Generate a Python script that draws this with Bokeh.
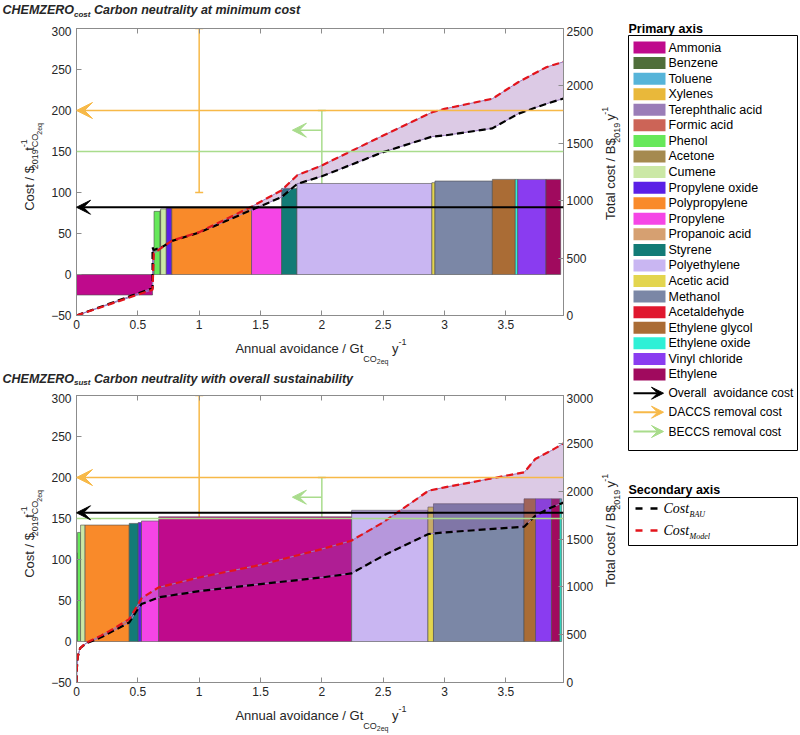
import math
import numpy as np
from bokeh.plotting import figure
from bokeh.models import (Range1d, LinearAxis, SingleIntervalTicker, NumeralTickFormatter,
                          CustomJSTickFormatter, Arrow, VeeHead, Whisker, TeeHead, Span,
                          ColumnDataSource)
from bokeh.layouts import row, column
from bokeh.embed import file_html
from bokeh.resources import INLINE
from bokeh.core.properties import value

NB = "\u00a0"

# ---------------------------------------------------------------- data
products = ["Ammonia", "Benzene", "Toluene", "Xylenes", "Terephthalic acid", "Formic acid",
            "Phenol", "Acetone", "Cumene", "Propylene oxide", "Polypropylene", "Propylene",
            "Propanoic acid", "Styrene", "Polyethylene", "Acetic acid", "Methanol",
            "Acetaldehyde", "Ethylene glycol", "Ethylene oxide", "Vinyl chloride", "Ethylene"]
product_colors = ["#bf0a8c", "#4f6e3a", "#56b4d9", "#e9b83a", "#9a7db8", "#cc6457",
                  "#66e85a", "#a58a4f", "#cbe8a5", "#5b1fe6", "#f98a2a", "#f545e6",
                  "#d6a071", "#127b76", "#c9b6f2", "#e3d54e", "#7b87a6",
                  "#e0172e", "#aa6c35", "#2ff0d6", "#8a3cf0", "#a00a5e"]
color_of = dict(zip(products, product_colors))

# CHEMZERO_cost : MACC bars in merit order (width Gt/y, cost $/t)
cost_bar_names = ["Ammonia", "Benzene", "Phenol", "Acetone", "Cumene", "Propylene oxide",
                  "Polypropylene", "Propylene", "Styrene", "Polyethylene", "Acetic acid",
                  "Methanol", "Ethylene glycol", "Ethylene oxide", "Vinyl chloride", "Ethylene"]
cost_bar_width = [0.620, 0.012, 0.050, 0.004, 0.046, 0.045, 0.650, 0.245, 0.125, 1.100,
                  0.025, 0.468, 0.187, 0.020, 0.230, 0.120]
cost_bar_value = [-25, 33, 77, 78, 80, 81, 81, 81, 105, 111, 112, 114, 116, 116, 116, 116]
# CHEMZERO_cost : total cost curves (B$/y)
cost_line_x = [0, 0.62, 0.62, 0.63, 0.70, 0.78, 1.00, 1.43, 1.67, 1.80, 2.00, 2.50, 2.90,
               3.00, 3.39, 3.60, 3.83, 3.97]
cost_bau = [0, 238, 590, 570, 598, 650, 722, 921, 1030, 1147, 1213, 1423, 1559,
            1568, 1630, 1757, 1844, 1890]
cost_model = [0, 225, 230, 540, 595, 653, 726, 950, 1089, 1222, 1307, 1568, 1771,
              1800, 1888, 2032, 2163, 2210]
cost_overall = 82

# CHEMZERO_sust
sust_bar_names = ["Terephthalic acid", "Phenol", "Cumene", "Polypropylene", "Styrene",
                  "Propylene oxide", "Propylene", "Ammonia", "Polyethylene", "Acetic acid",
                  "Methanol", "Ethylene glycol", "Vinyl chloride", "Ethylene", "Ethylene oxide"]
sust_bar_width = [0.008, 0.025, 0.037, 0.360, 0.073, 0.027, 0.140, 1.573, 0.622, 0.045,
                  0.738, 0.094, 0.130, 0.068, 0.015]
sust_bar_value = [108, 133, 142, 142, 144, 145, 147, 152, 160, 164, 168, 174, 174, 174, 174]
sust_line_x = [0, 0.003, 0.01, 0.03, 0.08, 0.20, 0.30, 0.43, 0.50, 0.53, 0.67, 1.00, 1.50,
               2.00, 2.24, 2.50, 2.87, 3.00, 3.65, 3.74, 3.87, 3.97]
sust_model = [0, 150, 270, 360, 415, 490, 560, 663, 810, 880, 994, 1098, 1230,
              1395, 1482, 1674, 2005, 2040, 2197, 2337, 2424, 2500]
sust_bau = [0, 150, 270, 360, 410, 472, 540, 628, 768, 820, 890, 955, 1029,
            1098, 1140, 1325, 1552, 1569, 1629, 1744, 1830, 1880]
sust_overall = 157

# removal costs ($/t)
daccs_x, daccs_line, daccs_low, daccs_high = 1.0, 200, 100, 300
beccs_x, beccs_line, beccs_mark, beccs_mark_end, beccs_low, beccs_high = 2.0, 150, 176, 1.76, 100, 200

arrow_labels = ["Overall" + NB + " avoidance cost", "DACCS removal cost", "BECCS removal cost"]

# ---------------------------------------------------------------- styling
ORANGE = "#f7b948"
GREEN = "#a9dc8c"
RED = "#e3141b"
TXT = "#262626"
AXC = "#8c8c8c"
FONT = "Liberation Sans"
XMIN, XMAX = 0.0, 3.97
YMIN, YMAX = -50.0, 300.0
FW, FH = 489, 287
BL, BR, BT, BB = 30, 31, 2, 20
LW = 46          # left title strip
RW = 26          # right title strip
TH = 26          # title strip
TOTW = LW + BL + FW + BR + RW   # 622
PAGE_W, PAGE_H = 800, 735

W_REG = {' ': 278, NB: 278, '$': 556, '-': 333, '/': 278, '.': 278,
         'A': 667, 'B': 667, 'C': 722, 'D': 722, 'E': 667, 'G': 778, 'H': 722, 'M': 833,
         'O': 778, 'R': 722, 'S': 667, 'T': 611, 'U': 722, 'Z': 611,
         'a': 556, 'b': 556, 'c': 500, 'd': 556, 'e': 556, 'f': 278, 'g': 556, 'h': 556,
         'i': 222, 'l': 222, 'm': 833, 'n': 556, 'o': 556, 'p': 556, 'q': 556, 'r': 333,
         's': 500, 't': 278, 'u': 556, 'v': 500, 'w': 722, 'y': 500}
W_BOLD = {' ': 278, NB: 278, '-': 333, 'C': 722, 'E': 667, 'H': 722, 'M': 833, 'O': 778,
          'R': 722, 'Z': 611, 'a': 556, 'b': 611, 'c': 556, 'd': 611, 'e': 556, 'h': 611,
          'i': 278, 'l': 278, 'm': 889, 'n': 611, 'o': 611, 'r': 389, 's': 556, 't': 333,
          'u': 611, 'v': 556, 'w': 778, 'y': 556}


def tw(s, size, bold=False):
    tbl = W_BOLD if bold else W_REG
    return sum(tbl.get(c, 556) for c in s) * size / 1000.0


def text_fig(w, h):
    f = figure(width=w, height=h, x_range=Range1d(0, w), y_range=Range1d(0, h),
               x_axis_type=None, y_axis_type=None, output_backend="svg",
               toolbar_location=None, min_border=0)
    f.outline_line_color = None
    return f


def rich(f, segs, cx, cy, rotate=False, center=True, bold=False, italic=False):
    """Run of text pieces in a text strip; cx, cy in pixels (y up); dy>0 lowers a piece."""
    total = sum(tw(t, s, bold) for (t, s, dy, adv) in segs if adv)
    pos = -total / 2 if center else 0.0
    style = ("bold " if bold else "") + ("italic" if italic else "")
    style = style.strip() or "normal"
    for t, s, dy, adv in segs:
        if rotate:
            x, y, ang = cx + dy, cy + pos, math.pi / 2
        else:
            x, y, ang = cx + pos, cy - dy, 0.0
        f.text(x=[x], y=[y], text=[t], angle=ang, text_font=value(FONT),
               text_font_size=f"{s}px", text_font_style=style, text_color=TXT,
               text_align="left", text_baseline="middle")
        if adv:
            pos += tw(t, s, bold)


def style_axis(ax):
    ax.axis_line_color = AXC
    ax.major_tick_line_color = AXC
    ax.major_tick_in = 5
    ax.major_tick_out = 0
    ax.minor_tick_line_color = None
    ax.major_label_text_font = FONT
    ax.major_label_text_font_size = "12px"
    ax.major_label_text_color = TXT


def make_block(names, widths, values, lx, bau, model, tot_max, overall, sub, rest,
               title_down, xlab_h):
    p = figure(width=BL + FW + BR, height=BT + FH + BB, x_range=Range1d(XMIN, XMAX),
               y_range=Range1d(YMIN, YMAX), x_axis_type=None, y_axis_type=None,
               output_backend="svg", toolbar_location=None,
               min_border_left=BL, min_border_right=BR, min_border_top=BT, min_border_bottom=BB)
    p.extra_y_ranges = {"tot": Range1d(0, tot_max)}
    p.outline_line_color = AXC

    w = np.array(widths, dtype=float)
    v = np.array(values, dtype=float)
    right = np.cumsum(w)
    left = right - w
    src = ColumnDataSource(dict(left=left, right=right, bottom=np.minimum(v, 0),
                                top=np.maximum(v, 0), color=[color_of[n] for n in names]))
    p.quad(left="left", right="right", bottom="bottom", top="top", fill_color="color",
           line_color="#4d4d4d", line_width=0.6, source=src)

    p.varea(x=lx, y1=bau, y2=model, y_range_name="tot", fill_color="#8c50aa", fill_alpha=0.3)
    p.line(lx, bau, y_range_name="tot", line_color="#9b7bbd", line_width=1)
    p.line(lx, model, y_range_name="tot", line_color="#9b7bbd", line_width=1)
    p.line(lx, bau, y_range_name="tot", line_color="black", line_width=2.2, line_dash="7 4")
    p.line(lx, model, y_range_name="tot", line_color=RED, line_width=2.2, line_dash="7 4")

    # removal costs and overall avoidance cost
    p.add_layout(Span(location=beccs_line, dimension="width", line_color=GREEN, line_width=1.5))
    wsrc = ColumnDataSource(dict(base=[daccs_x], lower=[daccs_low], upper=[daccs_high]))
    p.add_layout(Whisker(source=wsrc, base="base", lower="lower", upper="upper", dimension="height",
                         line_color=ORANGE, line_width=1.5,
                         upper_head=TeeHead(size=8, line_color=ORANGE, line_width=1.5),
                         lower_head=TeeHead(size=8, line_color=ORANGE, line_width=1.5)))
    gsrc = ColumnDataSource(dict(base=[beccs_x], lower=[beccs_low], upper=[beccs_high]))
    p.add_layout(Whisker(source=gsrc, base="base", lower="lower", upper="upper", dimension="height",
                         line_color=GREEN, line_width=1.5,
                         upper_head=TeeHead(size=8, line_color=GREEN, line_width=1.5),
                         lower_head=TeeHead(size=8, line_color=GREEN, line_width=1.5)))
    p.add_layout(Arrow(x_start=XMAX, y_start=daccs_line, x_end=0, y_end=daccs_line,
                       line_color=ORANGE, line_width=1.5,
                       end=VeeHead(size=16, fill_color=ORANGE, line_color=ORANGE, line_width=1)))
    p.add_layout(Arrow(x_start=beccs_x, y_start=beccs_mark, x_end=beccs_mark_end, y_end=beccs_mark,
                       line_color=GREEN, line_width=1.5,
                       end=VeeHead(size=14, fill_color=GREEN, line_color=GREEN, line_width=1)))
    p.add_layout(Arrow(x_start=XMAX, y_start=overall, x_end=0, y_end=overall,
                       line_color="black", line_width=2,
                       end=VeeHead(size=14, fill_color="black", line_color="black", line_width=1)))

    # axes
    xa = LinearAxis(ticker=SingleIntervalTicker(interval=0.5, num_minor_ticks=0),
                    formatter=NumeralTickFormatter(format="0.[0]"))
    style_axis(xa)
    xa.major_label_standoff = 4
    p.add_layout(xa, "below")
    xt = LinearAxis(ticker=SingleIntervalTicker(interval=0.5, num_minor_ticks=0),
                    formatter=CustomJSTickFormatter(code="return ''"))
    style_axis(xt)
    xt.major_label_standoff = 0
    xt.major_label_text_font_size = "1px"
    p.add_layout(xt, "above")
    ya = LinearAxis(ticker=SingleIntervalTicker(interval=50, num_minor_ticks=0))
    style_axis(ya)
    ya.major_label_standoff = 5
    p.add_layout(ya, "left")
    yr = LinearAxis(y_range_name="tot", ticker=SingleIntervalTicker(interval=500, num_minor_ticks=0))
    style_axis(yr)
    yr.major_label_standoff = 3
    p.add_layout(yr, "right")

    # text strips around the chart
    tfig = text_fig(TOTW, TH)
    rich(tfig, [("CHEMZERO", 12.5, 0, True), (sub, 8, 4, True), (NB + rest, 12.5, 0, True)],
         2, TH - title_down, center=False, bold=True, italic=True)

    ch = BT + FH + BB
    fc = BB + FH / 2          # frame centre, measured up from strip bottom
    lfig = text_fig(LW, ch)
    rich(lfig, [("Cost / $", 13, 0, True), ("2019", 9, 5.5, True), ("t", 13, 0, True),
                ("-1", 9, -5.5, False), ("CO", 9, 5.5, True), ("2eq", 7, 10, True)],
         29, fc - 4, rotate=True)
    rfig = text_fig(RW, ch)
    rich(rfig, [("Total cost / B$", 13, 0, True), ("2019", 9, 6, True), (NB + "y", 13, 0, True),
                ("-1", 9, -5.5, True)], 14, fc, rotate=True)

    xfig = text_fig(TOTW, xlab_h)
    main_y = xlab_h - 13
    rich(xfig, [("Annual avoidance / Gt", 13, 0, True), ("CO", 9, 10, True), ("2eq", 7, 13, True),
                (NB + "y", 13, 0, True), ("-1", 9, -7, True)], LW + BL + FW / 2, main_y)

    return column(tfig, row(lfig, p, rfig), xfig)


CH = BT + FH + BB
top_xlab_h = 32
bot_xlab_h = PAGE_H - (TH + CH + top_xlab_h) - (TH + CH)
top = make_block(cost_bar_names, cost_bar_width, cost_bar_value, cost_line_x, cost_bau, cost_model,
                 2500, cost_overall, "cost", "Carbon neutrality at minimum cost", 9.5, top_xlab_h)
bot = make_block(sust_bar_names, sust_bar_width, sust_bar_value, sust_line_x, sust_bau, sust_model,
                 3000, sust_overall, "sust", "Carbon neutrality with overall sustainability", 11,
                 bot_xlab_h)

# ---------------------------------------------------------------- legend panel
LGW = PAGE_W - TOTW
lg = figure(width=LGW, height=PAGE_H, x_range=Range1d(TOTW, PAGE_W), y_range=Range1d(PAGE_H, 0),
            x_axis_type=None, y_axis_type=None, output_backend="svg", toolbar_location=None,
            min_border=0)
lg.outline_line_color = None

BXL, BXR = 628, 797
SWL, SWR, TX = 633, 665, 668

lg.text(x=[BXL, BXL], y=[28, 489], text=["Primary axis", "Secondary axis"],
        text_font=value(FONT), text_font_style="bold", text_font_size="12.5px",
        text_baseline="middle", text_color="black")
lg.quad(left=[BXL, BXL], right=[BXR, BXR], top=[35, 497], bottom=[450, 545],
        fill_color=None, line_color="black", line_width=1)

ys = 47 + 15.57 * np.arange(len(products))
lg.quad(left=SWL, right=SWR, top=ys - 6, bottom=ys + 6, fill_color=product_colors,
        line_color=None)
lg.text(x=TX, y=ys, text=products, text_font=value(FONT), text_font_size="12.5px",
        text_baseline="middle", text_color="black")

arrow_y = [392.7, 411.7, 431.0]
arrow_cols = ["black", ORANGE, GREEN]
for yy, cc in zip(arrow_y, arrow_cols):
    lg.add_layout(Arrow(x_start=SWL, y_start=yy, x_end=SWR - 2, y_end=yy, line_color=cc, line_width=2,
                        end=VeeHead(size=12, fill_color=cc, line_color=cc, line_width=1)))
lg.text(x=TX, y=arrow_y, text=arrow_labels, text_font=value(FONT), text_font_size="12px",
        text_baseline="middle", text_color="black")

dash_y = [508, 530]
for yy, cc in zip(dash_y, ["black", RED]):
    lg.line([635, 657], [yy, yy], line_color=cc, line_width=2.5, line_dash="7 8")
lg.text(x=[663, 663], y=dash_y, text=["Cost", "Cost"], text_font=value("Liberation Serif"),
        text_font_style="italic", text_font_size="14px", text_baseline="middle", text_color="black")
lg.text(x=[689, 689], y=[yy + 5.5 for yy in dash_y], text=["BAU", "Model"],
        text_font=value("Liberation Serif"), text_font_style="italic", text_font_size="8px",
        text_baseline="middle", text_color="black")

layout = row(column(top, bot), lg)
open("out.html", "w").write(file_html(layout, INLINE))
